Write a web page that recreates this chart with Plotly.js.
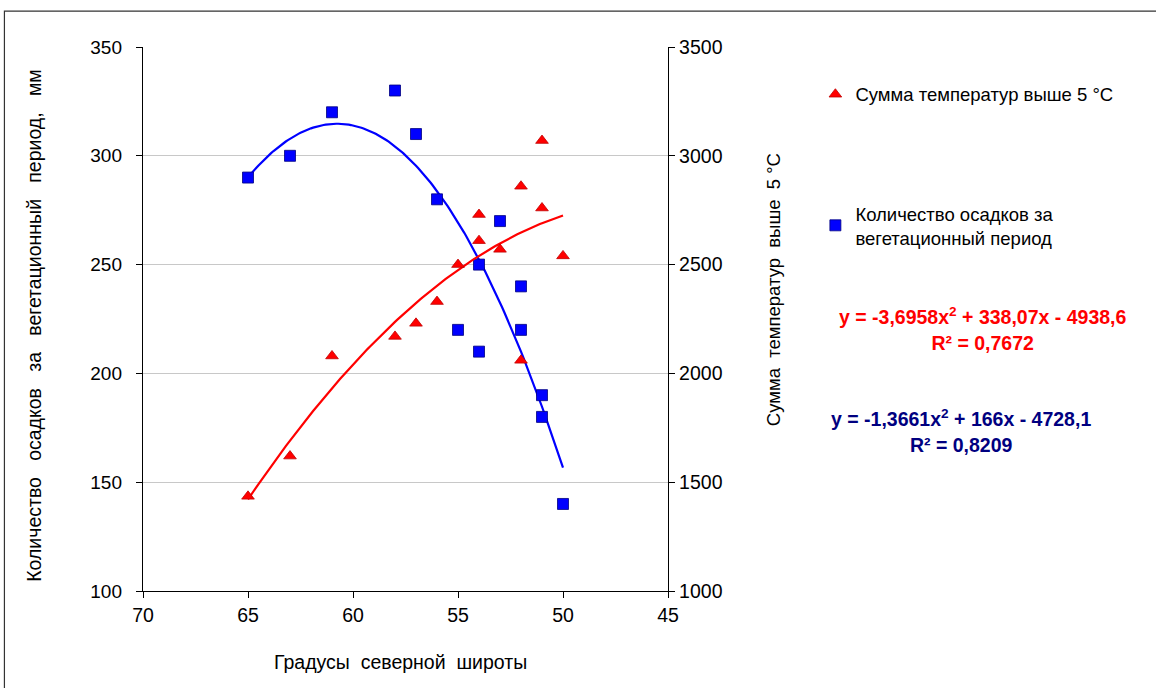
<!DOCTYPE html>
<html>
<head>
<meta charset="utf-8">
<script src="https://cdn.plot.ly/plotly-3.0.1.min.js"></script>
<style>html,body{margin:0;padding:0;background:#fff;}#chart{width:1156px;height:688px;}</style>
</head>
<body>
<div id="chart"></div>
<script>
// Precipitation (left axis, mm) by latitude
const precipLat = [65, 63, 61, 58, 57, 56, 55, 54, 54, 53, 52, 52, 51, 51, 50];
const precipVal = [290, 300, 320, 330, 310, 280, 220, 250, 210, 270, 240, 220, 190, 180, 140];
// Sum of temperatures above 5 °C (right axis) by latitude
const tempLat = [65, 63, 61, 58, 57, 56, 55, 54, 54, 53, 52, 52, 51, 51, 50];
const tempVal = [1435, 1620, 2080, 2170, 2230, 2330, 2500, 2610, 2730, 2570, 2860, 2060, 3070, 2760, 2540];
// Trendline coefficients as printed on the chart [a, b, c] for a*x^2 + b*x + c
const tempCoef = [-3.6958, 338.07, -4938.6];
const precipCoef = [-1.3661, 166, -4728.1];
const trendRange = [50, 65];

const xTickVals = [70, 65, 60, 55, 50, 45];

function curve(coef, range) {
  const xs = [], ys = [];
  for (let i = 0; i <= 150; i++) {
    const x = range[0] + (range[1] - range[0]) * i / 150;
    xs.push(x);
    ys.push(coef[0] * x * x + coef[1] * x + coef[2]);
  }
  return {xs, ys};
}
const tc = curve(tempCoef, trendRange);
const pc = curve(precipCoef, trendRange);

const FONT = 'Liberation Sans, Arial, sans-serif';

// pixel helpers for paper coords (plot area 143..667.7 x 47.3..591)
const PX = (px) => (px - 143) / 524.7;
const PY = (py) => (591 - py) / 543.7;

const traces = [
  {x: tc.xs, y: tc.ys, yaxis: 'y2', mode: 'lines', line: {color: '#ff0000', width: 2.2}, showlegend: false, hoverinfo: 'skip'},
  {x: pc.xs, y: pc.ys, yaxis: 'y', mode: 'lines', line: {color: '#0000ff', width: 2.2}, showlegend: false, hoverinfo: 'skip'},
  {x: tempLat, y: tempVal, yaxis: 'y2', mode: 'markers', name: 'Сумма температур выше 5 °C', legendgroup: 'a',
   marker: {symbol: 'triangle-up', size: 11, color: '#ff0000', line: {color: '#c00000', width: 0.8}}},
  {x: precipLat, y: precipVal, yaxis: 'y', mode: 'markers', name: 'Количество осадков за<br>вегетационный период', legendgroup: 'b',
   marker: {symbol: 'square', size: 11, color: '#0000ff', line: {color: '#000080', width: 0.8}}}
];

const layout = {
  width: 1156, height: 688,
  margin: {l: 143, r: 488, t: 47, b: 97},
  paper_bgcolor: '#ffffff', plot_bgcolor: '#ffffff',
  font: {family: FONT, size: 19, color: '#000'},
  showlegend: true,
  legend: {x: PX(815), y: PY(76), xanchor: 'left', yanchor: 'top', font: {family: FONT, size: 18.5, color: '#000'},
           traceorder: 'grouped', tracegroupgap: 92, itemwidth: 30, bgcolor: 'rgba(0,0,0,0)'},
  xaxis: {range: [70, 45], tickvals: xTickVals, ticks: 'outside', ticklen: 6, tickcolor: '#000',
          showline: true, linecolor: '#000', linewidth: 1.2, showgrid: false, zeroline: false,
          tickfont: {size: 19.5}},
  yaxis: {range: [100, 350], dtick: 50, ticks: 'outside', ticklen: 6, tickcolor: '#000',
          showline: true, linecolor: '#000', linewidth: 1.2, gridcolor: '#c8c8c8', gridwidth: 1, zeroline: false,
          tickfont: {size: 19}, ticklabelstandoff: 10},
  yaxis2: {range: [1000, 3500], dtick: 500, overlaying: 'y', side: 'right', ticks: 'outside', ticklen: 6, tickcolor: '#000',
           showline: true, linecolor: '#000', linewidth: 1.2, showgrid: false, zeroline: false,
           tickfont: {size: 19.5}},
  annotations: [
    {xref: 'paper', yref: 'paper', x: PX(400), y: PY(662), xanchor: 'center', yanchor: 'middle', showarrow: false,
     text: 'Градусы  северной  широты', font: {family: FONT, size: 19.5, color: '#000'}},
    {xref: 'paper', yref: 'paper', x: PX(34), y: PY(326), xanchor: 'center', yanchor: 'middle', showarrow: false, textangle: -90,
     text: 'Количество   осадков   за   вегетационный   период,   мм', font: {family: FONT, size: 19.5, color: '#000'}},
    {xref: 'paper', yref: 'paper', x: PX(773), y: PY(290), xanchor: 'center', yanchor: 'middle', showarrow: false, textangle: -90,
     text: 'Сумма  температур  выше  5 °C', font: {family: FONT, size: 18.5, color: '#000'}},
    {xref: 'paper', yref: 'paper', x: PX(982), y: PY(329), xanchor: 'center', yanchor: 'middle', showarrow: false, align: 'center',
     text: '<b>y = -3,6958x<sup>2</sup> + 338,07x - 4938,6<br>R² = 0,7672</b>', font: {family: FONT, size: 19.5, color: '#ff0000'}},
    {xref: 'paper', yref: 'paper', x: PX(961), y: PY(431), xanchor: 'center', yanchor: 'middle', showarrow: false, align: 'center',
     text: '<b>y = -1,3661x<sup>2</sup> + 166x - 4728,1<br>R² = 0,8209</b>', font: {family: FONT, size: 19.5, color: '#000080'}}
  ],
  shapes: [
    {type: 'rect', xref: 'paper', yref: 'paper', x0: PX(4.5), x1: PX(1170),
     y0: PY(700), y1: PY(11.5), line: {color: '#333', width: 1.2}, layer: 'below'}
  ]
};

Plotly.newPlot('chart', traces, layout, {displayModeBar: false, staticPlot: true});
</script>
</body>
</html>
